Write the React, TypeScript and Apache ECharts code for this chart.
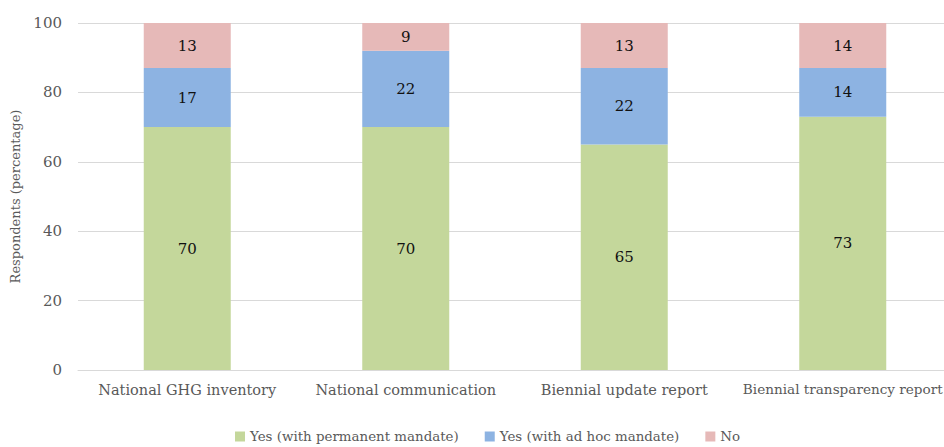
import React, { useEffect, useRef } from "react";
import * as echarts from "echarts";

const categories = [
  "National GHG inventory",
  "National communication",
  "Biennial update report",
  "Biennial transparency report",
];
const permanentMandate = [70, 70, 65, 73];
const adHocMandate = [17, 22, 22, 14];
const noMandate = [13, 9, 13, 14];
const yTicks = { min: 0, max: 100, interval: 20 };

const FONT = "DejaVu Serif";
const GREY = "#595959";

export default function App() {
  const ref = useRef<HTMLDivElement>(null);

  useEffect(() => {
    if (!ref.current) return;
    const chart = echarts.init(ref.current, undefined, { renderer: "svg" });

    const label = {
      show: true,
      position: "inside",
      color: "#111",
      fontFamily: FONT,
      fontSize: 15,
    };

    const mk = (name: string, data: number[], color: string) => ({
      name,
      type: "bar",
      stack: "total",
      data,
      barWidth: 87,
      itemStyle: { color },
      label,
      emphasis: { disabled: true },
    });

    const last = categories.length - 1;

    chart.setOption({
      animation: false,
      textStyle: { fontFamily: FONT },
      grid: { left: 78, top: 23, right: 0, height: 347, containLabel: false },
      legend: {
        top: 430,
        left: 235,
        itemWidth: 10,
        itemHeight: 10,
        itemGap: 26,
        icon: "rect",
        padding: 0,
        textStyle: { color: GREY, fontSize: 13.4, fontFamily: FONT },
        data: [
          "Yes (with permanent mandate)",
          "Yes (with ad hoc mandate)",
          "No",
        ],
      },
      xAxis: {
        type: "category",
        data: categories,
        axisLine: { lineStyle: { color: "#d9d9d9" } },
        axisTick: { show: false },
        axisLabel: {
          color: GREY,
          fontSize: 14.5,
          fontFamily: FONT,
          margin: 12,
          interval: 0,
          // the right-most category label is set a touch smaller so it stays inside the frame
          formatter: (v: string, i: number) => (i === last ? `{s|${v}}` : v),
          rich: { s: { color: GREY, fontSize: 13.6, fontFamily: FONT } },
        },
      },
      yAxis: {
        type: "value",
        min: yTicks.min,
        max: yTicks.max,
        interval: yTicks.interval,
        name: "Respondents (percentage)",
        nameLocation: "middle",
        nameGap: 52,
        nameTextStyle: { color: GREY, fontSize: 13, fontFamily: FONT },
        axisLine: { show: false },
        axisTick: { show: false },
        axisLabel: { color: GREY, fontSize: 15, fontFamily: FONT, margin: 16 },
        splitLine: { lineStyle: { color: "#d9d9d9" } },
      },
      series: [
        mk("Yes (with permanent mandate)", permanentMandate, "#c4d79b"),
        mk("Yes (with ad hoc mandate)", adHocMandate, "#8db3e2"),
        mk("No", noMandate, "#e6b9b8"),
      ],
    });

    return () => chart.dispose();
  }, []);

  return (
    <div style={{ position: "absolute", left: 0, top: 0, width: 944, height: 447, overflow: "hidden" }}>
      <div ref={ref} style={{ width: 952, height: 447 }} />
    </div>
  );
}
